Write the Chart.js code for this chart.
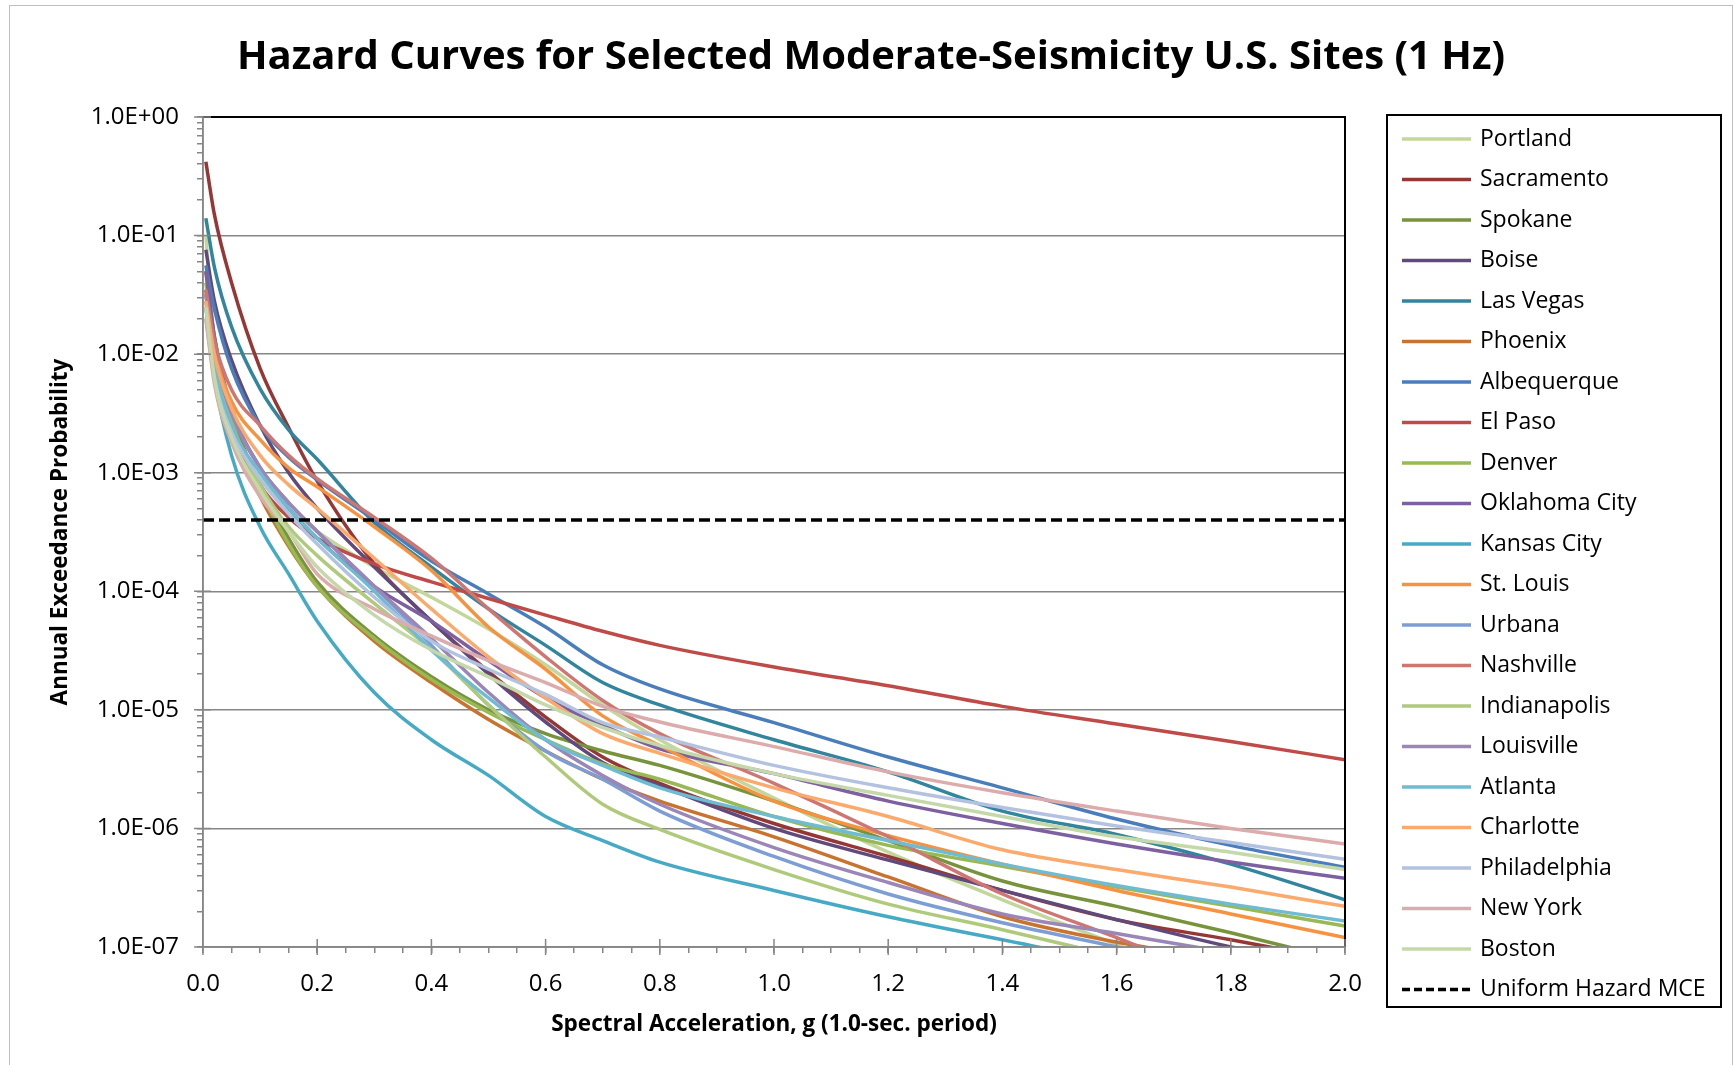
<!DOCTYPE html>
<html>
<head>
<meta charset="utf-8">
<title>Hazard Curves (1 Hz)</title>
<script src="https://cdn.jsdelivr.net/npm/chart.js@4.4.1/dist/chart.umd.min.js"></script>
<style>
body { margin: 0; background: #fff; }
#wrap { position: relative; width: 1734px; height: 1065px; }
</style>
</head>
<body>
<div id="wrap"><canvas id="chart"></canvas></div>
<script>
// spectral acceleration (g) at which every curve is read
var accel = [0.005, 0.02, 0.05, 0.1, 0.15, 0.2, 0.3, 0.4, 0.5, 0.6, 0.7, 0.8, 1.0, 1.2, 1.4, 1.6, 1.8, 2.0];

// annual exceedance probability, one list per site
var portland     = [1.0e-1, 1.3e-2, 2.5e-3, 8.9e-4, 5.0e-4, 3.2e-4, 1.6e-4, 8.9e-5, 4.8e-5, 2.4e-5, 1.1e-5, 5.6e-6, 1.8e-6, 6.3e-7, 2.5e-7, 1.05e-7, 4.5e-8, 2.0e-8];
var sacramento   = [4.2e-1, 1.5e-1, 4.0e-2, 7.6e-3, 2.4e-3, 8.5e-4, 1.7e-4, 5.6e-5, 2.1e-5, 8.7e-6, 4.0e-6, 2.4e-6, 1.1e-6, 5.8e-7, 3.0e-7, 1.7e-7, 1.15e-7, 7.6e-8];
var spokane      = [5.0e-2, 1.4e-2, 3.2e-3, 7.9e-4, 2.8e-4, 1.2e-4, 4.2e-5, 1.9e-5, 1.0e-5, 6.3e-6, 4.5e-6, 3.4e-6, 1.7e-6, 7.9e-7, 3.6e-7, 2.2e-7, 1.32e-7, 7.6e-8];
var boise        = [7.6e-2, 2.8e-2, 8.9e-3, 2.5e-3, 1.0e-3, 5.0e-4, 1.6e-4, 5.6e-5, 2.0e-5, 7.9e-6, 3.6e-6, 2.3e-6, 1.0e-6, 5.4e-7, 3.0e-7, 1.7e-7, 1.0e-7, 6.3e-8];
var lasVegas     = [1.4e-1, 5.4e-2, 1.7e-2, 5.1e-3, 2.3e-3, 1.3e-3, 3.8e-4, 1.6e-4, 7.1e-5, 3.5e-5, 1.7e-5, 1.1e-5, 5.6e-6, 3.0e-6, 1.4e-6, 8.9e-7, 5.0e-7, 2.5e-7];
var phoenix      = [3.2e-2, 8.9e-3, 2.2e-3, 6.3e-4, 2.4e-4, 1.1e-4, 3.8e-5, 1.7e-5, 8.3e-6, 4.5e-6, 2.6e-6, 1.7e-6, 8.5e-7, 3.9e-7, 1.8e-7, 1.1e-7, 7.6e-8, 5.0e-8];
var albuquerque  = [5.6e-2, 2.4e-2, 7.6e-3, 2.5e-3, 1.35e-3, 8.7e-4, 4.0e-4, 1.8e-4, 9.5e-5, 5.0e-5, 2.4e-5, 1.5e-5, 7.8e-6, 4.0e-6, 2.2e-6, 1.2e-6, 7.2e-7, 4.7e-7];
var elPaso       = [3.5e-2, 1.1e-2, 2.6e-3, 7.9e-4, 4.2e-4, 2.8e-4, 1.7e-4, 1.2e-4, 8.7e-5, 6.3e-5, 4.6e-5, 3.5e-5, 2.3e-5, 1.6e-5, 1.07e-5, 7.6e-6, 5.4e-6, 3.8e-6];
var denver       = [4.0e-2, 1.1e-2, 2.8e-3, 7.1e-4, 2.5e-4, 1.1e-4, 4.0e-5, 1.8e-5, 9.5e-6, 5.6e-6, 3.5e-6, 2.6e-6, 1.26e-6, 7.2e-7, 4.8e-7, 3.2e-7, 2.2e-7, 1.5e-7];
var oklahomaCity = [5.0e-2, 1.4e-2, 3.5e-3, 1.1e-3, 5.0e-4, 2.8e-4, 1.1e-4, 5.6e-5, 2.6e-5, 1.26e-5, 7.4e-6, 4.7e-6, 2.9e-6, 1.7e-6, 1.1e-6, 7.4e-7, 5.2e-7, 3.8e-7];
var kansasCity   = [2.5e-2, 6.3e-3, 1.4e-3, 3.5e-4, 1.4e-4, 5.6e-5, 1.4e-5, 5.6e-6, 2.8e-6, 1.26e-6, 7.9e-7, 5.2e-7, 3.0e-7, 1.8e-7, 1.15e-7, 7.4e-8, 5.0e-8, 3.5e-8];
var stLouis      = [3.2e-2, 1.1e-2, 4.0e-3, 1.9e-3, 1.1e-3, 7.6e-4, 3.5e-4, 1.5e-4, 5.0e-5, 2.2e-5, 8.9e-6, 5.0e-6, 1.7e-6, 8.7e-7, 5.0e-7, 3.0e-7, 1.9e-7, 1.2e-7];
var urbana       = [3.2e-2, 1.0e-2, 3.2e-3, 1.1e-3, 5.6e-4, 3.2e-4, 1.1e-4, 3.5e-5, 1.1e-5, 4.5e-6, 2.6e-6, 1.4e-6, 5.8e-7, 2.8e-7, 1.6e-7, 1.0e-7, 6.0e-8, 4.0e-8];
var nashville    = [3.5e-2, 1.3e-2, 5.0e-3, 2.5e-3, 1.4e-3, 8.9e-4, 4.2e-4, 1.9e-4, 7.1e-5, 2.8e-5, 1.2e-5, 6.3e-6, 2.4e-6, 8.5e-7, 2.8e-7, 1.2e-7, 5.0e-8, 2.5e-8];
var indianapolis = [2.5e-2, 7.9e-3, 2.5e-3, 7.9e-4, 3.5e-4, 2.0e-4, 7.9e-5, 3.2e-5, 1.1e-5, 4.0e-6, 1.6e-6, 9.8e-7, 4.5e-7, 2.3e-7, 1.4e-7, 8.3e-8, 5.0e-8, 3.2e-8];
var louisville   = [2.8e-2, 1.0e-2, 3.2e-3, 1.1e-3, 5.6e-4, 3.2e-4, 1.1e-4, 4.0e-5, 1.4e-5, 5.6e-6, 2.8e-6, 1.6e-6, 6.9e-7, 3.5e-7, 1.9e-7, 1.3e-7, 8.9e-8, 6.3e-8];
var atlanta      = [2.5e-2, 7.9e-3, 2.5e-3, 1.0e-3, 5.0e-4, 2.8e-4, 1.0e-4, 3.2e-5, 1.26e-5, 5.6e-6, 3.4e-6, 2.2e-6, 1.26e-6, 7.9e-7, 5.0e-7, 3.3e-7, 2.3e-7, 1.66e-7];
var charlotte    = [2.8e-2, 1.0e-2, 3.5e-3, 1.4e-3, 7.9e-4, 5.0e-4, 1.9e-4, 7.1e-5, 2.8e-5, 1.26e-5, 6.3e-6, 4.3e-6, 2.2e-6, 1.26e-6, 6.6e-7, 4.5e-7, 3.2e-7, 2.2e-7];
var philadelphia = [2.0e-2, 6.3e-3, 2.2e-3, 8.9e-4, 4.5e-4, 2.5e-4, 8.9e-5, 3.8e-5, 2.2e-5, 1.35e-5, 7.8e-6, 5.9e-6, 3.4e-6, 2.2e-6, 1.5e-6, 1.05e-6, 7.6e-7, 5.5e-7];
var newYork      = [2.0e-2, 5.6e-3, 1.8e-3, 6.3e-4, 3.2e-4, 1.4e-4, 7.1e-5, 4.2e-5, 2.6e-5, 1.7e-5, 1.07e-5, 7.9e-6, 4.9e-6, 3.0e-6, 2.0e-6, 1.4e-6, 1.0e-6, 7.4e-7];
var boston       = [2.5e-2, 6.3e-3, 2.0e-3, 7.1e-4, 3.2e-4, 1.6e-4, 6.3e-5, 3.2e-5, 1.9e-5, 1.1e-5, 7.1e-6, 5.0e-6, 2.9e-6, 1.9e-6, 1.26e-6, 8.5e-7, 6.3e-7, 4.5e-7];

// uniform hazard MCE level
var mceAccel = [0.0, 2.0];
var mceProb  = [4.0e-4, 4.0e-4];

var siteNames = ['Portland', 'Sacramento', 'Spokane', 'Boise', 'Las Vegas', 'Phoenix', 'Albequerque', 'El Paso',
	'Denver', 'Oklahoma City', 'Kansas City', 'St. Louis', 'Urbana', 'Nashville', 'Indianapolis', 'Louisville',
	'Atlanta', 'Charlotte', 'Philadelphia', 'New York', 'Boston'];
var siteValues = [portland, sacramento, spokane, boise, lasVegas, phoenix, albuquerque, elPaso,
	denver, oklahomaCity, kansasCity, stLouis, urbana, nashville, indianapolis, louisville,
	atlanta, charlotte, philadelphia, newYork, boston];
var siteColors = ['#C3D69B', '#953735', '#77933C', '#604A7B', '#31859C', '#C8732F', '#4A7EBB', '#BE4B48',
	'#98B954', '#7D60A0', '#46AAC5', '#F69240', '#7C9ED3', '#CE7672', '#AFCA7B', '#9B86B8',
	'#6FBCD2', '#F9AA6C', '#B3C2DF', '#DBACAB', '#C5D8AA'];

var yTicks = [1e-7, 1e-6, 1e-5, 1e-4, 1e-3, 1e-2, 1e-1, 1];
var yTickLabels = ['1.0E-07', '1.0E-06', '1.0E-05', '1.0E-04', '1.0E-03', '1.0E-02', '1.0E-01', '1.0E+00'];
var xTicks = [0.0, 0.2, 0.4, 0.6, 0.8, 1.0, 1.2, 1.4, 1.6, 1.8, 2.0];
var xTickLabels = ['0.0', '0.2', '0.4', '0.6', '0.8', '1.0', '1.2', '1.4', '1.6', '1.8', '2.0'];

var titleText = 'Hazard Curves for Selected Moderate-Seismicity U.S. Sites (1 Hz)';
var xTitle = 'Spectral Acceleration, g (1.0-sec. period)';
var yTitle = 'Annual Exceedance Probability';

var FONT = "'Open Sans', 'Noto Sans', sans-serif";
var AXIS_GREY = '#868686';

// minor tick positions for the axes
var yMinor = [];
for (var d = 0; d < yTicks.length - 1; d++)
	for (var m = 1; m < 10; m++)
		yMinor.push(yTicks[d] * m);
yMinor.push(1);
var xMinor = [];
for (var i = 0; i <= 40; i++)
	xMinor.push(Math.round(i * 5) / 100);

function isMajorX(v) {
	for (var j = 0; j < xTicks.length; j++)
		if (Math.abs(v - xTicks[j]) < 1e-6) return j;
	return -1;
}
function isMajorY(v) {
	for (var j = 0; j < yTicks.length; j++)
		if (Math.abs(v / yTicks[j] - 1) < 1e-6) return j;
	return -1;
}

var datasets = [];
for (var s = 0; s < siteNames.length; s++) {
	var pts = [];
	for (var k = 0; k < accel.length; k++)
		pts.push({x: accel[k], y: siteValues[s][k]});
	datasets.push({
		label: siteNames[s],
		data: pts,
		borderColor: siteColors[s],
		backgroundColor: siteColors[s],
		borderWidth: 3.5,
		pointRadius: 0,
		fill: false,
		cubicInterpolationMode: 'monotone',
		order: -s
	});
}
datasets.push({
	label: 'Uniform Hazard MCE',
	data: [{x: mceAccel[0], y: mceProb[0]}, {x: mceAccel[1], y: mceProb[1]}],
	borderColor: '#000000',
	backgroundColor: '#000000',
	borderWidth: 3.5,
	borderDash: [11, 5],
	pointRadius: 0,
	fill: false,
	order: -100
});

var decorations = {
	id: 'decorations',
	beforeDraw: function(chart) {
		var ctx = chart.ctx;
		ctx.save();
		ctx.strokeStyle = '#BFBFBF';
		ctx.lineWidth = 1;
		ctx.strokeRect(9.5, 5.5, 1723, 1075);
		ctx.restore();
	},
	afterDraw: function(chart) {
		var ctx = chart.ctx;
		var a = chart.chartArea;
		var xs = chart.scales.x, ys = chart.scales.y;
		ctx.save();
		// plot area frame
		ctx.strokeStyle = '#000';
		ctx.lineWidth = 2;
		ctx.beginPath();
		ctx.moveTo(a.left, a.top);
		ctx.lineTo(a.right, a.top);
		ctx.lineTo(a.right, a.bottom);
		ctx.stroke();
		// major tick marks crossing the axes
		ctx.strokeStyle = AXIS_GREY;
		ctx.lineWidth = 1.5;
		ctx.beginPath();
		for (var j = 0; j < xTicks.length; j++) {
			var px = xs.getPixelForValue(xTicks[j]);
			ctx.moveTo(px, a.bottom - 8);
			ctx.lineTo(px, a.bottom + 8);
		}
		for (var j2 = 0; j2 < yTicks.length; j2++) {
			var py = ys.getPixelForValue(yTicks[j2]);
			ctx.moveTo(a.left - 9, py);
			ctx.lineTo(a.left + 8, py);
		}
		ctx.moveTo(a.left, a.top);
		ctx.lineTo(a.left, a.bottom);
		ctx.lineTo(a.right, a.bottom);
		ctx.stroke();

		// titles
		ctx.fillStyle = '#000';
		ctx.textAlign = 'center';
		ctx.textBaseline = 'middle';
		ctx.font = 'bold 40px ' + FONT;
		ctx.fillText(titleText, 871, 58);
		ctx.font = 'bold 22.5px ' + FONT;
		ctx.fillText(xTitle, (a.left + a.right) / 2, 1025);
		ctx.save();
		ctx.translate(61, (a.top + a.bottom) / 2);
		ctx.rotate(-Math.PI / 2);
		ctx.fillText(yTitle, 0, 0);
		ctx.restore();

		// legend
		var L = {left: 1387, top: 115, right: 1721, bottom: 1007, firstY: 139, step: 40.5, x0: 1402, x1: 1471, tx: 1480};
		ctx.strokeStyle = '#000';
		ctx.lineWidth = 2;
		ctx.strokeRect(L.left, L.top, L.right - L.left, L.bottom - L.top);
		ctx.font = '23px ' + FONT;
		ctx.textAlign = 'left';
		var ds = chart.data.datasets;
		for (var n = 0; n < ds.length; n++) {
			var y = L.firstY + n * L.step;
			ctx.strokeStyle = ds[n].borderColor;
			ctx.lineWidth = 3.5;
			ctx.setLineDash(ds[n].borderDash ? [8, 4] : []);
			ctx.beginPath();
			ctx.moveTo(L.x0, y);
			ctx.lineTo(L.x1, y);
			ctx.stroke();
			ctx.setLineDash([]);
			ctx.fillStyle = '#000';
			ctx.fillText(ds[n].label, L.tx, y);
		}
		ctx.restore();
	}
};

Chart.defaults.font.family = FONT;
new Chart(document.getElementById('chart'), {
	type: 'line',
	data: { datasets: datasets },
	options: {
		responsive: true,
		maintainAspectRatio: false,
		animation: false,
		layout: { padding: { top: 117, right: 389, bottom: 58, left: 0 } },
		plugins: { legend: { display: false }, title: { display: false }, tooltip: { enabled: false } },
		scales: {
			x: {
				type: 'linear',
				min: 0,
				max: 2,
				afterBuildTicks: function(scale) { scale.ticks = xMinor.map(function(v){ return {value: v}; }); },
				afterFit: function(scale) { scale.height = 60; },
				ticks: {
					autoSkip: false,
					maxRotation: 0,
					padding: 17,
					color: '#000',
					font: { size: 24 },
					callback: function(v) { var j = isMajorX(v); return j >= 0 ? xTickLabels[j] : ''; }
				},
				grid: { drawOnChartArea: false, color: AXIS_GREY, tickLength: 6, lineWidth: 1.5 },
				border: { color: AXIS_GREY, width: 1.5 }
			},
			y: {
				type: 'logarithmic',
				min: 1e-7,
				max: 1,
				afterBuildTicks: function(scale) { scale.ticks = yMinor.map(function(v){ return {value: v}; }); },
				afterFit: function(scale) { scale.width = 203; },
				ticks: {
					autoSkip: false,
					padding: 18,
					color: '#000',
					font: { size: 24 },
					callback: function(v) { var j = isMajorY(v); return j >= 0 ? yTickLabels[j] : ''; }
				},
				grid: {
					color: function(c) { return (c.tick && isMajorY(c.tick.value) >= 0) ? AXIS_GREY : 'rgba(0,0,0,0)'; },
					tickColor: AXIS_GREY,
					tickLength: 6,
					lineWidth: 1.5
				},
				border: { color: AXIS_GREY, width: 1.5 }
			}
		}
	},
	plugins: [decorations]
});
</script>
</body>
</html>
